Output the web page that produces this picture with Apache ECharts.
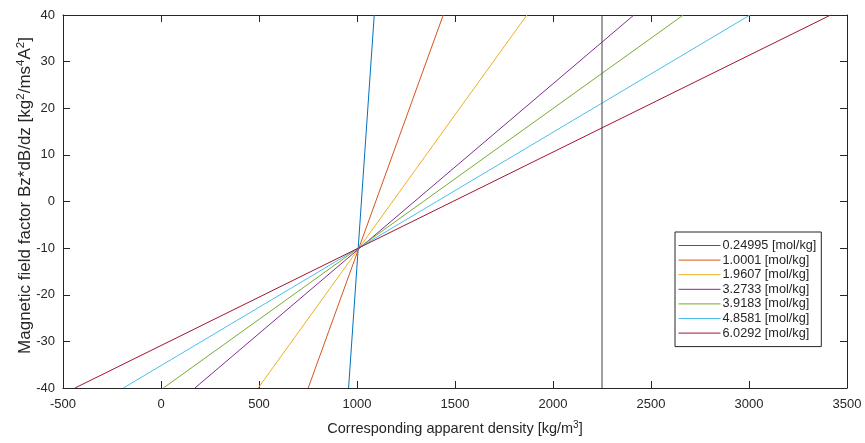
<!DOCTYPE html>
<html>
<head>
<meta charset="utf-8">
<script src="https://cdn.jsdelivr.net/npm/echarts@6/dist/echarts.min.js"></script>
<style>
  html, body { margin: 0; padding: 0; background: #fff; }
  #chart { width: 865px; height: 443px; }
</style>
</head>
<body>
<div id="chart"></div>
<script>
// Molality of each solution (legend labels)
const molality = ['0.24995', '1.0001', '1.9607', '3.2733', '3.9183', '4.8581', '6.0292'];
// Field factor range spanned by each line
const fieldRange = [-40, 40];
// Apparent density where each line meets the lower and upper field limits
const densityAtLow = [957, 751, 496, 173, 12, -192, -439];
const densityAtHigh = [1088, 1440, 1867, 2413, 2665, 3005, 3417];
// Reference density marker
const markerDensity = 2250;
// Axis ticks
const xTicks = [-500, 0, 500, 1000, 1500, 2000, 2500, 3000, 3500];
const yTicks = [-40, -30, -20, -10, 0, 10, 20, 30, 40];

const colors = ['#0072BD', '#D95319', '#EDB120', '#7E2F8E', '#77AC30', '#4DBEEE', '#A2142F'];
const axisColor = '#262626';
const font = 'Liberation Sans, Arial, Helvetica, sans-serif';

const names = molality.map(m => m + ' [mol/kg]');

const series = names.map((name, i) => ({
  name: name,
  type: 'line',
  xAxisIndex: 0,
  yAxisIndex: 0,
  symbol: 'none',
  silent: true,
  animation: false,
  color: colors[i],
  lineStyle: { color: colors[i], width: 1 },
  itemStyle: { color: colors[i] },
  data: [[densityAtLow[i], fieldRange[0]], [densityAtHigh[i], fieldRange[1]]]
}));

series.push({
  name: 'marker',
  type: 'line',
  symbol: 'none',
  silent: true,
  animation: false,
  color: '#404040',
  lineStyle: { color: '#404040', width: 1 },
  data: [[markerDensity, fieldRange[0]], [markerDensity, fieldRange[1]]]
});

const xStep = xTicks[1] - xTicks[0];
const yStep = yTicks[1] - yTicks[0];
const plain = v => String(v);

function xAxisCfg(pos, showLabel) {
  return {
    type: 'value',
    position: pos,
    min: xTicks[0], max: xTicks[xTicks.length - 1], interval: xStep,
    axisLine: { show: true, onZero: false, lineStyle: { color: axisColor, width: 1 } },
    axisTick: { show: true, inside: true, length: 7, lineStyle: { color: axisColor } },
    splitLine: { show: false },
    axisLabel: { show: showLabel, color: axisColor, fontSize: 13, fontFamily: font, margin: 10, formatter: plain }
  };
}
function yAxisCfg(pos, showLabel) {
  return {
    type: 'value',
    position: pos,
    min: yTicks[0], max: yTicks[yTicks.length - 1], interval: yStep,
    axisLine: { show: true, onZero: false, lineStyle: { color: axisColor, width: 1 } },
    axisTick: { show: true, inside: true, length: 7, lineStyle: { color: axisColor } },
    splitLine: { show: false },
    axisLabel: { show: showLabel, color: axisColor, fontSize: 13, fontFamily: font, margin: 8, formatter: plain }
  };
}

const xBottom = xAxisCfg('bottom', true);
xBottom.name = 'Corresponding apparent density [kg/m{sup|3}]';
xBottom.nameLocation = 'middle';
xBottom.nameGap = 32;
xBottom.nameMoveOverlap = false;
xBottom.nameTextStyle = {
  color: axisColor, fontSize: 14.5, fontFamily: font,
  rich: { sup: { fontSize: 10, fontFamily: font, color: axisColor, verticalAlign: 'top', padding: [0, 0, 8, 0] } }
};
const xTop = xAxisCfg('top', false);

const yLeft = yAxisCfg('left', true);
yLeft.name = 'Magnetic field factor Bz*dB/dz [kg{sup|2}/ms{sup|4}A{sup|2}]';
yLeft.nameLocation = 'middle';
yLeft.nameGap = 27;
yLeft.nameRotate = 90;
yLeft.nameMoveOverlap = false;
yLeft.nameTextStyle = {
  color: axisColor, fontSize: 17, fontFamily: font, padding: [0, 0, 0, 12],
  rich: { sup: { fontSize: 11.5, fontFamily: font, color: axisColor, verticalAlign: 'top', padding: [0, 0, 9, 0] } }
};
const yRight = yAxisCfg('right', false);

const legendItems = names.map((n, i) => ({
  name: n,
  itemStyle: { color: colors[i], opacity: 0 },
  lineStyle: { color: colors[i], width: 1 }
}));

const chart = echarts.init(document.getElementById('chart'), null, { renderer: 'canvas' });
chart.setOption({
  animation: false,
  backgroundColor: '#fff',
  grid: { left: 63, top: 15, right: 18, bottom: 55, containLabel: false },
  xAxis: [xBottom, xTop],
  yAxis: [yLeft, yRight],
  legend: {
    data: legendItems,
    orient: 'vertical',
    left: 675,
    top: 232,
    itemWidth: 42,
    itemHeight: 14,
    itemGap: 1.6,
    padding: [7, 5, 7, 3],
    borderColor: axisColor,
    borderWidth: 1,
    backgroundColor: '#fff',
    selectedMode: false,
    itemStyle: { opacity: 0 },
    lineStyle: { width: 1 },
    textStyle: { color: axisColor, fontSize: 12.7, fontFamily: font, padding: [0, 0, 0, -3] }
  },
  series: series
});
</script>
</body>
</html>
